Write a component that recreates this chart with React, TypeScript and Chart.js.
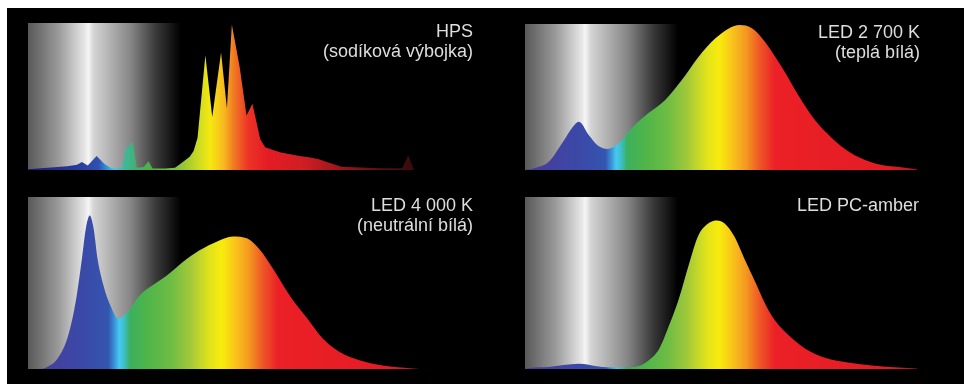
import React, { useEffect, useRef } from "react";
import { Chart, registerables } from "chart.js";

Chart.register(...registerables);

// ---------- DATA ----------
const hpsWavelengths = [380, 400, 420, 430, 435, 441, 450, 458, 465, 476, 480, 484, 487, 491, 498, 503, 507, 520, 530, 536, 545, 549, 553, 561, 568, 577, 583, 588, 596, 603, 609, 617, 622, 637, 657, 668, 676, 688, 700, 740, 762, 768, 774, 780];
const hpsValues = [0.5, 1.5, 2.5, 3.5, 5.5, 3, 9.5, 4, 1.2, 1.5, 15, 17, 19, 1.5, 2, 6, 1, 1, 1.5, 4.5, 9, 13, 22, 78, 36, 80, 42, 99, 70, 37, 45, 21, 15.5, 12, 9.5, 8.5, 7.5, 4.8, 2.2, 1.2, 1.2, 10, 0, 0];

const led2700Wavelengths = [380, 390, 404, 418, 428, 435, 445, 455, 464, 476, 489, 506, 523, 540, 557, 574, 588, 599, 612, 625, 642, 660, 676, 693, 711, 727, 744, 762, 778, 780];
const led2700Values = [0, 1.4, 5.5, 18.5, 28.8, 33, 24, 16.4, 14.4, 18.5, 28.8, 39, 48, 61.6, 77.4, 90, 97, 99.3, 97, 87.7, 70.5, 50, 34, 22, 12.3, 6.8, 3.4, 2, 0.7, 0.5];

const led4000Wavelengths = [380, 395, 399, 410, 420, 428, 435, 439, 443, 447, 451, 457, 464, 472, 481, 494, 512, 522, 538, 555, 573, 589, 604, 617, 630, 647, 665, 681, 698, 719, 742, 780];
const led4000Values = [0, 0.2, 1, 6, 17.6, 37, 64, 81.6, 89.3, 81.6, 64, 48.6, 37, 29.3, 32.7, 42.8, 50.6, 54.5, 62.2, 69, 74.2, 77.1, 75.8, 69, 58.3, 42.8, 29.3, 17.6, 9.9, 5, 2.1, 0];

const amberWavelengths = [380, 384, 404, 435, 455, 472, 492, 506, 517, 527, 537, 547, 557, 568, 576, 584, 594, 604, 615, 625, 635, 649, 666, 686, 711, 734, 762, 780];
const amberValues = [0, 0.6, 1.2, 3, 1.5, 0.8, 1.2, 5, 11.8, 25.4, 40.9, 60.3, 77.7, 85, 86.4, 84.5, 76.7, 64, 50.6, 38, 28.3, 19.6, 11.8, 6.6, 3.7, 2.1, 0.9, 0.3];

const hpsLabels = ["HPS", "(sodíková výbojka)"];
const led2700Labels = ["LED 2 700 K", "(teplá bílá)"];
const led4000Labels = ["LED 4 000 K", "(neutrální bílá)"];
const amberLabels = ["LED PC-amber"];

const X_MIN = 380;
const X_MAX = 780;
const BOX_END = 536;

// ---------- STYLES ----------
const GRAY_STOPS: [number, string][] = [
  [0, "#585858"],
  [0.2, "#9a9a9a"],
  [0.37, "#e6e6e6"],
  [0.395, "#f6f6f6"],
  [0.43, "#d4d4d4"],
  [0.67, "#868686"],
  [0.84, "#383838"],
  [1, "#000000"],
];

const HPS_STOPS: [number, string][] = [
  [380, "#1c1c6a"],
  [430, "#283c9c"],
  [452, "#3050b0"],
  [462, "#30a0e0"],
  [468, "#40c8f0"],
  [478, "#40b8a0"],
  [490, "#40b070"],
  [505, "#50b040"],
  [535, "#8ac23c"],
  [555, "#d0dc20"],
  [566, "#f5e810"],
  [580, "#f8b820"],
  [590, "#f07a22"],
  [605, "#ee3226"],
  [625, "#e41c24"],
  [660, "#d01e24"],
  [700, "#9a161a"],
  [740, "#5a1010"],
  [780, "#300a0a"],
];

const LED_STOPS: [number, string][] = [
  [380, "#4a3a98"],
  [440, "#3a4aa8"],
  [462, "#3456b0"],
  [468, "#3a90d8"],
  [473, "#48c8f0"],
  [478, "#3cc0c8"],
  [484, "#3cb060"],
  [500, "#4cb44a"],
  [525, "#6cbc44"],
  [545, "#a0c83a"],
  [565, "#e0e21c"],
  [578, "#f8ec0c"],
  [592, "#f9c21c"],
  [605, "#f49a20"],
  [620, "#ee5526"],
  [635, "#ec2027"],
  [750, "#e31c24"],
  [780, "#a8181e"],
];

type PanelProps = {
  left: number;
  top: number;
  width: number;
  height: number;
  padding: { left: number; top: number; right: number; bottom: number };
  wavelengths: number[];
  values: number[];
  stops: [number, string][];
  smooth: boolean;
  labels: string[];
  labelRight: number;
  labelBaseline: number;
};

function Panel(p: PanelProps) {
  const ref = useRef<HTMLCanvasElement | null>(null);
  useEffect(() => {
    if (!ref.current) return;
    const data = p.wavelengths.map((w, i) => ({ x: w, y: p.values[i] }));
    const boxPlugin = {
      id: "grayBox",
      beforeDraw(chart: any) {
        const { ctx, chartArea, scales } = chart;
        const x0 = scales.x.getPixelForValue(X_MIN);
        const x1 = scales.x.getPixelForValue(BOX_END);
        const g = ctx.createLinearGradient(x0, 0, x1, 0);
        GRAY_STOPS.forEach(([o, c]) => g.addColorStop(o, c));
        ctx.save();
        ctx.fillStyle = g;
        ctx.fillRect(x0, chartArea.top, x1 - x0, chartArea.bottom - chartArea.top);
        ctx.restore();
      },
      afterDraw(chart: any) {
        const { ctx } = chart;
        ctx.save();
        ctx.fillStyle = "#dedede";
        ctx.font = '18px "Liberation Sans", Arial, sans-serif';
        ctx.textAlign = "right";
        ctx.textBaseline = "alphabetic";
        p.labels.forEach((t, i) => ctx.fillText(t, p.labelRight, p.labelBaseline + i * 20));
        ctx.restore();
      },
    };
    const chart = new Chart(ref.current, {
      type: "line",
      data: {
        datasets: [
          {
            data,
            fill: "origin",
            borderWidth: 0,
            pointRadius: 0,
            tension: p.smooth ? 0.4 : 0,
            cubicInterpolationMode: p.smooth ? "monotone" : "default",
            borderColor: "rgba(0,0,0,0)",
            backgroundColor: (c: any) => {
              const chart = c.chart;
              if (!chart.chartArea) return "rgba(0,0,0,0)";
              const xs = chart.scales.x;
              const x0 = xs.getPixelForValue(X_MIN);
              const x1 = xs.getPixelForValue(X_MAX);
              const g = chart.ctx.createLinearGradient(x0, 0, x1, 0);
              p.stops.forEach(([nm, col]) => g.addColorStop((nm - X_MIN) / (X_MAX - X_MIN), col));
              return g;
            },
          },
        ],
      },
      options: {
        animation: false,
        responsive: false,
        layout: { padding: p.padding },
        plugins: { legend: { display: false }, tooltip: { enabled: false }, title: { display: false } },
        scales: {
          x: { type: "linear", min: X_MIN, max: X_MAX, display: false },
          y: { type: "linear", min: 0, max: 100, display: false },
        },
      },
      plugins: [boxPlugin],
    } as any);
    return () => chart.destroy();
  }, []);
  return (
    <canvas
      ref={ref}
      width={p.width}
      height={p.height}
      style={{ position: "absolute", left: p.left, top: p.top, width: p.width, height: p.height, display: "block" }}
    />
  );
}

export default function App() {
  return (
    <div style={{ position: "absolute", left: 7, top: 8, width: 957, height: 376, background: "#000" }}>
      <Panel
        left={0} top={0} width={478} height={188}
        padding={{ left: 21, top: 15, right: 65, bottom: 26 }}
        wavelengths={hpsWavelengths} values={hpsValues} stops={HPS_STOPS} smooth={false}
        labels={hpsLabels} labelRight={466} labelBaseline={29}
      />
      <Panel
        left={478} top={0} width={479} height={188}
        padding={{ left: 40, top: 16, right: 47, bottom: 26 }}
        wavelengths={led2700Wavelengths} values={led2700Values} stops={LED_STOPS} smooth={true}
        labels={led2700Labels} labelRight={435} labelBaseline={30}
      />
      <Panel
        left={0} top={188} width={478} height={188}
        padding={{ left: 21, top: 1, right: 65, bottom: 15 }}
        wavelengths={led4000Wavelengths} values={led4000Values} stops={LED_STOPS} smooth={true}
        labels={led4000Labels} labelRight={466} labelBaseline={15}
      />
      <Panel
        left={478} top={188} width={479} height={188}
        padding={{ left: 40, top: 1, right: 47, bottom: 15 }}
        wavelengths={amberWavelengths} values={amberValues} stops={LED_STOPS} smooth={true}
        labels={amberLabels} labelRight={434} labelBaseline={15}
      />
    </div>
  );
}
